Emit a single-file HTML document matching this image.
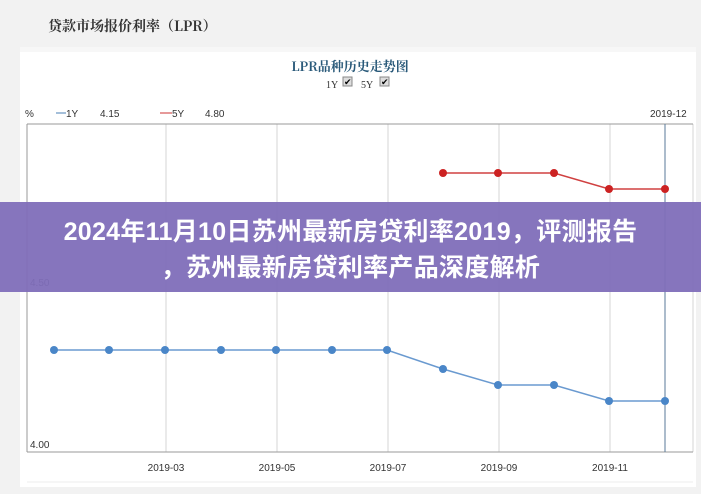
<!DOCTYPE html>
<html><head><meta charset="utf-8"><style>
body{margin:0;width:701px;height:494px;background:#f2f2f2;overflow:hidden;font-family:"Liberation Sans","Noto Sans CJK SC",sans-serif;position:relative}
.ov{position:absolute;left:0;top:202px;width:701px;height:90px;background:rgba(128,110,185,0.95);color:#fff;font-weight:bold;font-size:25px;text-align:center;line-height:36px;padding-top:12px;box-sizing:border-box;letter-spacing:0.3px}
</style></head><body>
<svg width="701" height="494" style="position:absolute;left:0;top:0">
<rect x="20" y="47" width="676" height="440" fill="#fff"/>
<rect x="20" y="47" width="676" height="5" fill="#f7f7f7"/>
<line x1="27" y1="482" x2="693" y2="482" stroke="#eee"/>
<text x="48" y="31" font-size="14" font-weight="bold" fill="#333" font-family="Noto Serif CJK SC,serif">贷款市场报价利率（LPR）</text>
<text x="350" y="71" font-size="13" font-weight="bold" fill="#2a5a7a" text-anchor="middle" font-family="Noto Serif CJK SC,serif">LPR品种历史走势图</text>
<text x="326" y="88" font-size="10" fill="#333" font-family="Liberation Serif,serif">1Y</text>
<rect x="343" y="77" width="9" height="9" fill="#ddd" stroke="#888"/><text x="344" y="85" font-size="9">✔</text>
<text x="361" y="88" font-size="10" fill="#333" font-family="Liberation Serif,serif">5Y</text>
<rect x="380" y="77" width="9" height="9" fill="#ddd" stroke="#888"/><text x="381" y="85" font-size="9">✔</text>
<g font-size="10" fill="#333">
<text x="25" y="117">%</text>
<line x1="56" y1="113" x2="66" y2="113" stroke="#4a7fb5"/><text x="66" y="117">1Y</text><text x="100" y="117">4.15</text>
<line x1="160" y1="113" x2="172" y2="113" stroke="#c33"/><text x="172" y="117">5Y</text><text x="205" y="117">4.80</text>
<text x="650" y="117">2019-12</text>
</g>
<g stroke="#d5d5d5" stroke-width="1">
<line x1="166" y1="124" x2="166" y2="452"/><line x1="277" y1="124" x2="277" y2="452"/><line x1="388" y1="124" x2="388" y2="452"/><line x1="499" y1="124" x2="499" y2="452"/><line x1="610" y1="124" x2="610" y2="452"/><line x1="693" y1="124" x2="693" y2="452"/>
</g>
<line x1="27" y1="124" x2="693" y2="124" stroke="#999"/>
<line x1="27" y1="452" x2="693" y2="452" stroke="#999"/>
<line x1="27" y1="124" x2="27" y2="452" stroke="#999"/>
<line x1="665" y1="124" x2="665" y2="452" stroke="#5a7a9a"/>
<text x="30" y="286" font-size="10" fill="#333">4.50</text>
<text x="30" y="448" font-size="10" fill="#333">4.00</text>
<g font-size="10" fill="#333" text-anchor="middle">
<text x="166" y="471">2019-03</text><text x="277" y="471">2019-05</text><text x="388" y="471">2019-07</text><text x="499" y="471">2019-09</text><text x="610" y="471">2019-11</text>
</g>
<polyline fill="none" stroke="#6a9ad0" stroke-width="1.5" points="54,350 109,350 165,350 221,350 276,350 332,350 387,350 443,369 498,385 554,385 609,401 665,401"/>
<g fill="#4a86c8"><circle cx="54" cy="350" r="4"/><circle cx="109" cy="350" r="4"/><circle cx="165" cy="350" r="4"/><circle cx="221" cy="350" r="4"/><circle cx="276" cy="350" r="4"/><circle cx="332" cy="350" r="4"/><circle cx="387" cy="350" r="4"/><circle cx="443" cy="369" r="4"/><circle cx="498" cy="385" r="4"/><circle cx="554" cy="385" r="4"/><circle cx="609" cy="401" r="4"/><circle cx="665" cy="401" r="4"/></g>
<polyline fill="none" stroke="#d04040" stroke-width="1.5" points="443,173 498,173 554,173 609,189 665,189"/>
<g fill="#cc2222"><circle cx="443" cy="173" r="4"/><circle cx="498" cy="173" r="4"/><circle cx="554" cy="173" r="4"/><circle cx="609" cy="189" r="4"/><circle cx="665" cy="189" r="4"/></g>
</svg>
<div class="ov">2024年11月10日苏州最新房贷利率2019，评测报告<br>，苏州最新房贷利率产品深度解析</div>
</body></html>
